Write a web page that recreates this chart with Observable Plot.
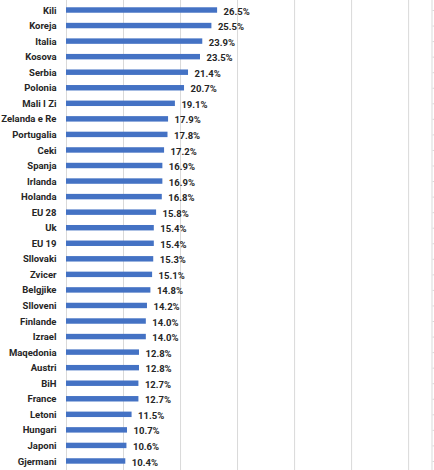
<!DOCTYPE html>
<html>
<head>
<meta charset="utf-8">
<script src="https://cdn.jsdelivr.net/npm/d3@7"></script>
<script src="https://cdn.jsdelivr.net/npm/@observablehq/plot@0.6"></script>
<style>
  html, body { margin: 0; padding: 0; background: #fff; }
  #chart svg { display: block; }
</style>
</head>
<body>
<div id="chart"></div>
<script>
// Countries, ordered from highest to lowest share
const categories = [
  "Kili", "Koreja", "Italia", "Kosova", "Serbia", "Polonia", "Mali I Zi",
  "Zelanda e Re", "Portugalia", "Ceki", "Spanja", "Irlanda", "Holanda",
  "EU 28", "Uk", "EU 19", "Sllovaki", "Zvicer", "Belgjike", "Slloveni",
  "Finlande", "Izrael", "Maqedonia", "Austri", "BiH", "France", "Letoni",
  "Hungari", "Japoni", "Gjermani"
];
// Share in percent
const values = [
  26.5, 25.5, 23.9, 23.5, 21.4, 20.7, 19.1,
  17.9, 17.8, 17.2, 16.9, 16.9, 16.8,
  15.8, 15.4, 15.4, 15.3, 15.1, 14.8, 14.2,
  14.0, 14.0, 12.8, 12.8, 12.7, 12.7, 11.5,
  10.7, 10.6, 10.4
];
// Vertical gridlines (percent)
const gridTicks = [0, 10, 20, 30, 40, 50, 60];
const xMax = 64.1;

const data = categories.map((name, i) => ({name, value: values[i]}));

const font = "Roboto, 'Liberation Sans', sans-serif";

const chart = Plot.plot({
  width: 434,
  height: 470,
  marginLeft: 66,
  marginRight: 2.5,
  marginTop: 0,
  marginBottom: 0,
  style: {fontFamily: font, fontSize: "9.5px", fontWeight: "bold", color: "#262626", background: "#fff"},
  x: {domain: [0, xMax], axis: null},
  y: {domain: categories, range: [-2.83, 473.8], padding: 0.65, round: false, axis: null, label: null},
  marks: [
    Plot.ruleX(gridTicks, {stroke: "#d9d9d9", strokeWidth: 1}),
    Plot.ruleX([xMax], {stroke: "#d9d9d9", strokeWidth: 1}),
    Plot.axisY({anchor: "right", tickSize: 3, tickFormat: () => "", label: null, stroke: "#d9d9d9", strokeOpacity: 1}),
    Plot.barX(data, {x: "value", y: "name", fill: "#4472C4"}),
    Plot.text(data, {
      x: "value", y: "name",
      text: d => d.value.toFixed(1) + "%",
      textAnchor: "start", dx: 6, dy: 1,
      fill: "#262626"
    }),
    Plot.axisY({anchor: "left", tickSize: 0, tickPadding: 10, label: null, fill: "#262626"})
  ]
});

document.getElementById("chart").appendChild(chart);
</script>
</body>
</html>
